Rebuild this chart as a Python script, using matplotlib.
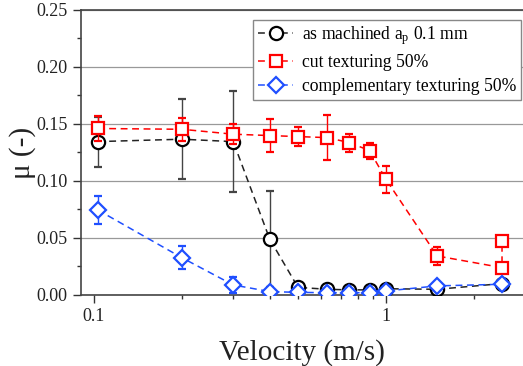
import numpy as np
from matplotlib import pyplot as plt
from matplotlib.ticker import LogLocator, FixedLocator, FixedFormatter, MultipleLocator

plt.rcParams['font.family'] = ['Liberation Serif', 'DejaVu Serif']
plt.rcParams['mathtext.fontset'] = 'custom'
plt.rcParams['mathtext.rm'] = 'Liberation Serif'
plt.rcParams['mathtext.it'] = 'Liberation Serif'

# velocities (m/s)
v = [0.103, 0.2, 0.3, 0.4, 0.5, 0.63, 0.75, 0.88, 1.0, 1.5, 2.5]

# as machined ap 0.1 mm
mu_am = [0.1345, 0.1366, 0.1345, 0.049, 0.0067, 0.005, 0.0045, 0.0045, 0.0055, 0.005, 0.010]
err_am = [0.022, 0.035, 0.044, 0.042, 0.001, 0.001, 0.001, 0.001, 0.001, 0.001, 0.001]

# cut texturing 50% (two measurements at 2.5 m/s)
v_cut = [0.103, 0.2, 0.3, 0.4, 0.5, 0.63, 0.75, 0.88, 1.0, 1.5, 2.5, 2.5]
mu_cut = [0.146, 0.1453, 0.141, 0.1398, 0.1389, 0.138, 0.1336, 0.1266, 0.1015, 0.0342, 0.024, 0.0476]
err_cut = [0.011, 0.010, 0.009, 0.0145, 0.0085, 0.020, 0.008, 0.007, 0.012, 0.008, 0.003, 0.003]

# complementary texturing 50%
mu_ct = [0.0746, 0.0327, 0.0088, 0.003, 0.0023, 0.002, 0.002, 0.002, 0.0035, 0.008, 0.0094]
err_ct = [0.012, 0.010, 0.007, 0.001, 0.001, 0.001, 0.001, 0.001, 0.001, 0.001, 0.001]

fig = plt.figure(figsize=(5.23, 3.66), dpi=100)
ax = fig.add_axes([0.155, 0.194, 0.845, 0.779])

dash = (0, (4.5, 3))
eb1 = ax.errorbar(v, mu_am, yerr=err_am, color='#222222', ecolor='#444444', linestyle=dash, lw=1.1,
                  marker='o', ms=9.5, mfc='white', mec='black', mew=1.6, capsize=3, elinewidth=1,
                  zorder=3)
eb2 = ax.errorbar(v_cut, mu_cut, yerr=err_cut, color='red', ecolor='red', linestyle=dash, lw=1.1,
                  marker='s', ms=8, mfc='white', mec='red', mew=1.6, capsize=3, elinewidth=1,
                  zorder=4)
eb3 = ax.errorbar(v, mu_ct, yerr=err_ct, color='#1f4fff', ecolor='#1f4fff', linestyle=dash, lw=1.1,
                  marker='D', ms=8.5, mfc='white', mec='#1f4fff', mew=1.6, capsize=3, elinewidth=1,
                  zorder=5)

ax.set_xscale('log')
ax.set_xlim(0.0903, 2.95)
ax.set_ylim(0, 0.25)

ax.xaxis.set_major_locator(FixedLocator([0.1, 1]))
ax.xaxis.set_major_formatter(FixedFormatter(['0.1', '1']))
ax.xaxis.set_minor_locator(LogLocator(base=10, subs=np.arange(2, 10)))
ax.xaxis.set_minor_formatter(FixedFormatter([]))
ax.yaxis.set_major_locator(MultipleLocator(0.05))
ax.yaxis.set_minor_locator(MultipleLocator(0.025))
ax.yaxis.set_major_formatter(plt.FormatStrFormatter('%.2f'))

ax.tick_params(which='major', direction='out', length=6, width=1, labelsize=13, colors='#333333', labelcolor='#222222')
ax.tick_params(which='minor', direction='out', length=3, width=1, colors='#333333')

ax.grid(axis='y', color='#999999', lw=0.9)
ax.set_axisbelow(True)
for s in ['left', 'bottom', 'top']:
    ax.spines[s].set_color('#444444')
    ax.spines[s].set_linewidth(1.2)
ax.spines['right'].set_visible(False)

ax.set_xlabel('Velocity (m/s)', fontsize=21, color='#222222', labelpad=10)
ax.set_ylabel('μ (-)', fontsize=21, color='#222222', labelpad=0)

labels = ['as machined a$_\\mathregular{p}$ 0.1 mm', 'cut texturing 50%', 'complementary texturing 50%']
leg = ax.legend([eb1[0], eb2[0], eb3[0]], labels, loc='upper right', bbox_to_anchor=(0.995, 0.965),
                borderaxespad=0, fontsize=12.7, frameon=True, fancybox=False, edgecolor='#888888',
                framealpha=1, handlelength=2, handletextpad=0.5, labelspacing=0.4, borderpad=0.25)
leg.get_frame().set_linewidth(1)

fig.savefig('out.png', dpi=100)
